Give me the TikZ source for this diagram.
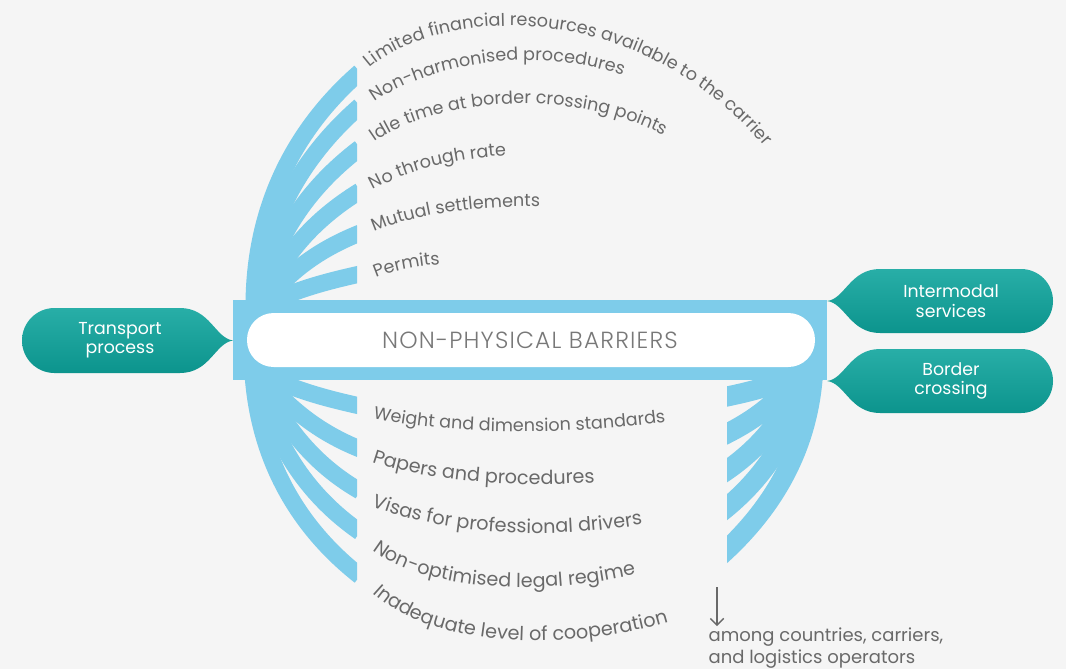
\documentclass[tikz,border=0pt]{standalone}
\usepackage{fontspec}
\setmainfont{Poppins}
\newfontfamily\thinfont{Poppins Light}
\usetikzlibrary{decorations.text,arrows.meta}
\definecolor{bgcol}{RGB}{245,245,245}
\definecolor{barblue}{RGB}{126,204,234}
\definecolor{tealtop}{RGB}{40,174,167}
\definecolor{tealbot}{RGB}{12,148,141}
\definecolor{txtgray}{RGB}{105,105,105}
\definecolor{midgray}{RGB}{120,120,120}
\newcommand\labelsize{\fontsize{13.2}{15}\selectfont}
\newcommand\widesize{\fontsize{14.4}{16}\selectfont}
\tikzset{
  strand/.style={draw=barblue, line width=12.75pt},
  rstrand/.style={draw=barblue, line width=15pt},
  curvelabel/.style={decorate, decoration={text along path, text align=left,
      text color=txtgray, text={|\labelsize|#1}}},
  widelabel/.style={decorate, decoration={text along path, text align=left,
      text color=txtgray, text={|\widesize|#1}}},
  tealshade/.style={top color=tealtop, bottom color=tealbot, draw=none},
  tealtext/.style={text=white, align=center, font=\fontsize{13}{14.5}\selectfont},
}
\begin{document}
\begin{tikzpicture}[x=0.75pt,y=-0.75pt]
  \fill[bgcol] (0,0) rectangle (1066,669);
  \useasboundingbox (0,0) rectangle (1066,669);

  % band
  \fill[barblue] (233,300) rectangle (827,380);

  % upper fan
  \begin{scope}
    \clip (200,0) rectangle (357,320);
    \draw[strand] (254,306) .. controls (254,213.5) and (290,133) .. (360,72);
    \draw[strand] (256,306) .. controls (264.5,225.4) and (299,159) .. (360,106);
    \draw[strand] (258,306) .. controls (273,240) and (306,189) .. (360,148);
    \draw[strand] (260,306) .. controls (282,256) and (313,220) .. (360,191);
    \draw[strand] (262,306) .. controls (289,271) and (319,249.5) .. (360,233);
    \draw[strand] (262,306) .. controls (295,290) and (324,282) .. (360,274);
  \end{scope}

  % lower fan
  \begin{scope}
    \clip (200,360) rectangle (357,669);
    \draw[strand] (262,374) .. controls (295,390) and (324,398) .. (360,406);
    \draw[strand] (260,374) .. controls (289,408.5) and (318,432) .. (360,449);
    \draw[strand] (258,374) .. controls (282.5,424) and (311.6,463) .. (360,491);
    \draw[strand] (256,374) .. controls (272.5,440) and (304,493) .. (360,532);
    \draw[strand] (253,374) .. controls (258.7,456) and (295,525) .. (360,576);
  \end{scope}

  % right fan
  \begin{scope}
    \clip (727,360) rectangle (840,669);
    \draw[rstrand] (796,374) .. controls (770,387.6) and (748,392) .. (720,398);
    \draw[rstrand] (800,374) .. controls (777,403) and (753.5,421) .. (720,437);
    \draw[rstrand] (804,374) .. controls (785,417) and (760,449) .. (720,475);
    \draw[rstrand] (808,374) .. controls (793.7,431) and (766.6,476.6) .. (720,513);
    \draw[rstrand] (813,374) .. controls (808,447) and (774.7,506.8) .. (720,556);
  \end{scope}

  % pill
  \fill[white, rounded corners=20pt] (247,313) rectangle (815,367);
  \node[text=midgray, font=\thinfont\fontsize{17.5}{19}\selectfont\addfontfeature{LetterSpace=5}]
    (npb) at (530,340) {NON-PHYSICAL BARRIERS};

  % teal boxes
  \shade[tealshade] (233,340.5) .. controls (215,338) and (210,308) .. (180,308)
    -- (54.5,308) .. controls (36.5,308) and (22,322.5) .. (22,340.5)
    .. controls (22,358.5) and (36.5,373) .. (54.5,373) -- (180,373)
    .. controls (210,373) and (215,343) .. (233,340.5) -- cycle;
  \node[tealtext] (transport) at (120,340.5) {Transport\\process};
  \foreach \yc/\nm/\txt in {301/intermodal/Intermodal\\services, 381/border/Border\\crossing}{
    \shade[tealshade] (827,\yc) .. controls (845,\yc-2) and (850,\yc-32) .. (880,\yc-32)
      -- (1021,\yc-32) .. controls (1038.7,\yc-32) and (1053,\yc-17.7) .. (1053,\yc)
      .. controls (1053,\yc+17.7) and (1038.7,\yc+32) .. (1021,\yc+32) -- (880,\yc+32)
      .. controls (850,\yc+32) and (845,\yc+2) .. (827,\yc) -- cycle;
    \node[tealtext] (\nm) at (951,\yc) {\txt};
  }

  % upper labels
  \path[curvelabel={Limited financial resources available to the carrier}]
    (370,68) .. controls (440,6) and (660,-10) .. (790,180);
  \path[curvelabel={Non-harmonised procedures}]
    (375,102) .. controls (430,62) and (560,38) .. (655,90);
  \path[curvelabel={Idle time at border crossing points}]
    (375,142) .. controls (440,96) and (590,84) .. (685,148);
  \path[curvelabel={No through rate}]
    (373,190) .. controls (410,170) and (460,155) .. (530,155);
  \path[curvelabel={Mutual settlements}]
    (374,232) .. controls (420,212) and (490,203) .. (570,208);
  \path[curvelabel={Permits}]
    (376,278) .. controls (400,268) and (425,264) .. (470,263);

  % lower labels
  \path[curvelabel={Weight and dimension standards}]
    (373,418) .. controls (450,436) and (590,436) .. (690,418);
  \path[widelabel={Papers and procedures}]
    (372,462) .. controls (430,482) and (530,490) .. (620,480);
  \path[widelabel={Visas for professional drivers}]
    (372,506) .. controls (440,534) and (570,546) .. (690,514);
  \path[widelabel={Non-optimised legal regime}]
    (373,550) .. controls (425,592) and (560,602) .. (680,562);
  \path[widelabel={Inadequate level of cooperation}]
    (373,593) .. controls (440,656) and (630,662) .. (770,578);

  % note
  \node[anchor=north west, inner sep=1pt, text=txtgray, align=left,
    font=\fontsize{13.5}{16.5}\selectfont] (note) at (707,626)
    {among countries, carriers,\\and logistics operators};
  \coordinate (arrtop) at (717,587);
  \draw[txtgray, line width=1pt, -{Straight Barb[length=5pt,width=10pt]}]
    (arrtop) -- (arrtop |- note.north);
\end{tikzpicture}
\end{document}
